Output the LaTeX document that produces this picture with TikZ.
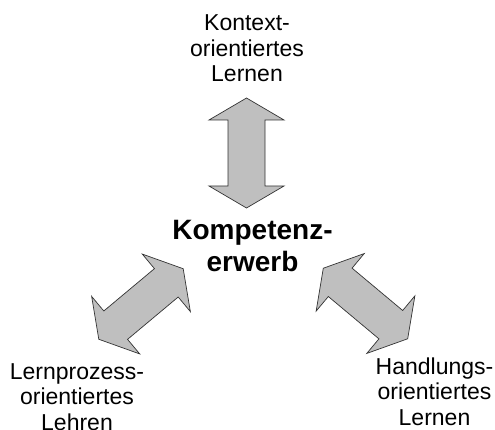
\documentclass[tikz,border=0pt]{standalone}
\usepackage{fontspec}
\setmainfont{Liberation Sans}
\begin{document}
\begin{tikzpicture}[x=1pt,y=-1pt,
  dblarrow/.style={draw=black!80,line width=0.7pt,fill=black!25,line join=miter},
  lbl/.style={anchor=base,align=center,inner sep=0pt,font=\fontsize{23}{25.5}\selectfont},
  core/.style={anchor=base,align=center,inner sep=0pt,font=\fontsize{28}{32}\selectfont\bfseries}]
\useasboundingbox (0,0) rectangle (495,430);
\tikzset{pics/darrow/.style={code={
  \draw[dblarrow] (-55,0) -- (-33,37.5) -- (-33,18.5) -- (33,18.5) -- (33,37.5) -- (55,0)
     -- (33,-37.5) -- (33,-18.5) -- (-33,-18.5) -- (-33,-37.5) -- cycle;}}}
\pic (atop) at (246.5,153) [rotate=-90] {darrow};
\pic (aleft) at (141,304) [rotate=39.9] {darrow};
\pic (aright) at (365.5,303.5) [rotate=-39.9] {darrow};
\node[core] (kern) at (252.5,272) {Kompetenz-\\erwerb};
\node[lbl] (kontext) at (247,82) {Kontext-\\orientiertes\\Lernen};
\node[lbl] (lernproz) at (77,430) {Lernprozess-\\orientiertes\\Lehren};
\node[lbl] (handl) at (434.5,425) {Handlungs-\\orientiertes\\Lernen};
\end{tikzpicture}
\end{document}
